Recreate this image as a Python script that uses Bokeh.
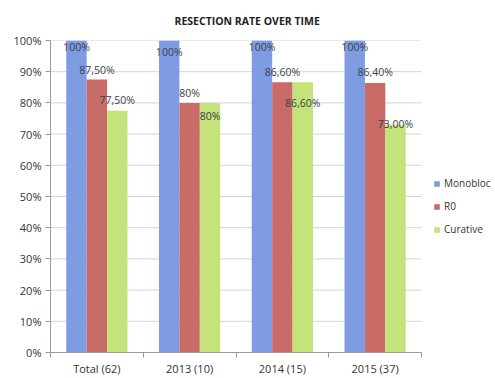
import numpy as np
from bokeh.plotting import figure
from bokeh.models import ColumnDataSource, FixedTicker, Range1d, Legend, LegendItem, NumeralTickFormatter
from bokeh.core.properties import value
from bokeh.embed import file_html
from bokeh.resources import INLINE

# ---- data ----
categories = ["Total (62)", "2013 (10)", "2014 (15)", "2015 (37)"]
series_names = ["Monobloc", "R0", "Curative"]
monobloc = [100.0, 100.0, 100.0, 100.0]
r0 = [87.5, 80.0, 86.6, 86.4]
curative = [77.5, 80.0, 86.6, 73.0]
monobloc_labels = ["100%", "100%", "100%", "100%"]
r0_labels = ["87,50%", "80%", "86,60%", "86,40%"]
curative_labels = ["77,50%", "80%", "86,60%", "73,00%"]
y_ticks = [0, 10, 20, 30, 40, 50, 60, 70, 80, 90, 100]

# ---- layout (label placement, as in the original chart) ----
monobloc_label_y = [97.8, 96.2, 97.8, 97.8]
r0_label_y = [90.4, 83.1, 89.8, 89.8]
curative_label_y = [80.9, 75.8, 79.9, 73.2]

colors = ["#7f9be2", "#c96b67", "#c4e37a"]
offsets = [-0.22, 0.0, 0.22]
bar_w = 0.22
font = "Open Sans"
text_color = "#3a3f4a"
axis_color = "#9a9a9a"

n = len(categories)
# frame spans to the right edge so the legend can sit beside the bars
plot_px = 371.0
frame_px = 495.0 - 50.0
x_max = n * frame_px / plot_px

p = figure(width=495, height=378, output_backend="svg", toolbar_location=None,
           x_range=Range1d(0, x_max), y_range=Range1d(0, 100),
           min_border_left=50, min_border_right=0, min_border_top=40, min_border_bottom=25)
p.outline_line_color = None
p.background_fill_color = "white"
p.border_fill_color = "white"

p.title.text = "RESECTION RATE OVER TIME"
p.title.align = "left"
p.title.offset = 124
p.title.text_font = font
p.title.text_font_size = "10.5px"
p.title.text_font_style = "bold"
p.title.text_color = "#222222"
p.title.standoff = 22
p.title.vertical_align = "top"

# grid lines limited to the category area
p.xgrid.grid_line_color = None
p.ygrid.grid_line_color = None
p.segment(x0=[0] * (len(y_ticks) - 1), x1=[n] * (len(y_ticks) - 1), y0=y_ticks[1:], y1=y_ticks[1:],
          line_color="#d4d4d4", line_width=1)

centers = np.arange(n) + 0.5
values = [monobloc, r0, curative]
labels = [monobloc_labels, r0_labels, curative_labels]
label_ys = [monobloc_label_y, r0_label_y, curative_label_y]

renderers = []
for i in range(3):
    src = ColumnDataSource(dict(x=centers + offsets[i], top=values[i]))
    r = p.vbar(x="x", top="top", bottom=0, width=bar_w, source=src,
               fill_color=colors[i], line_color=None)
    renderers.append(r)
for i in range(3):
    src = ColumnDataSource(dict(x=centers + offsets[i], lbl=labels[i], ly=label_ys[i]))
    p.text(x="x", y="ly", text="lbl", source=src, text_align="center",
           text_baseline="middle", text_font=value(font), text_font_size="10.5px",
           text_color=text_color)

# y axis
p.yaxis.ticker = FixedTicker(ticks=y_ticks)
p.yaxis.formatter = NumeralTickFormatter(format="0")
p.yaxis.major_label_overrides = {t: f"{t}%" for t in y_ticks}
p.yaxis.major_label_text_font = font
p.yaxis.major_label_text_font_size = "11px"
p.yaxis.major_label_text_color = "#333333"
p.yaxis.axis_line_color = axis_color
p.yaxis.major_tick_line_color = axis_color
p.yaxis.major_tick_out = 5
p.yaxis.major_tick_in = 0
p.yaxis.minor_tick_line_color = None
p.yaxis.major_label_standoff = 4

# x axis
p.xaxis.bounds = (0, n)
p.xaxis.ticker = FixedTicker(ticks=list(centers), minor_ticks=list(range(n + 1)))
p.xaxis.major_label_overrides = {float(c): name for c, name in zip(centers, categories)}
p.xaxis.major_label_text_font = font
p.xaxis.major_label_text_font_size = "11px"
p.xaxis.major_label_text_color = "#333333"
p.xaxis.axis_line_color = axis_color
p.xaxis.major_tick_line_color = None
p.xaxis.minor_tick_line_color = axis_color
p.xaxis.minor_tick_out = 5
p.xaxis.minor_tick_in = 0
p.xaxis.major_label_standoff = 2

legend = Legend(items=[LegendItem(label=name, renderers=[r]) for name, r in zip(series_names, renderers)],
                location=(383, 116), orientation="vertical",
                glyph_width=7, glyph_height=7, label_height=12, spacing=9,
                padding=0, margin=0, label_standoff=4,
                label_text_font=font, label_text_font_size="10px", label_text_color="#333333",
                background_fill_alpha=0, border_line_color=None)
p.add_layout(legend)

open("out.html", "w").write(file_html(p, INLINE))
